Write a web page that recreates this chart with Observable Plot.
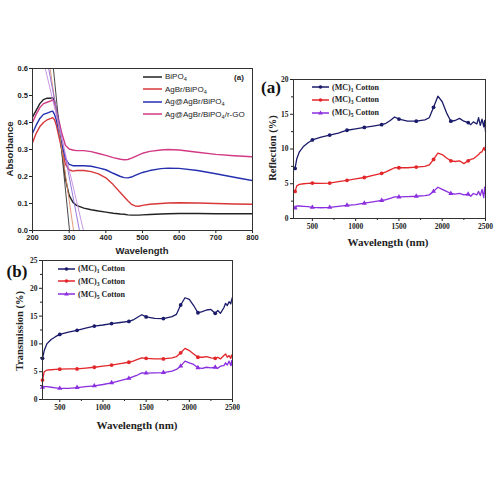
<!DOCTYPE html>
<html><head><meta charset="utf-8">
<script src="https://cdn.jsdelivr.net/npm/d3@7"></script>
<script src="https://cdn.jsdelivr.net/npm/@observablehq/plot@0.6"></script>
<style>
body{margin:0;background:#fff;}
#root{position:relative;width:500px;height:500px;overflow:hidden;background:#fff;}
.p{position:absolute;overflow:visible;}
.t{position:absolute;white-space:nowrap;transform:translate(-50%,-50%);}
.leg{position:absolute;display:flex;align-items:center;white-space:nowrap;}
sub{font-size:70%;vertical-align:-2px;line-height:0;}
</style></head>
<body><div id="root"></div>
<script>
// ---------- Panel 1: absorbance ----------
const absWl = [200,210,220,230,240,250,255,260,265,270,280,290,300,310,320,340,360,380,400,420,440,450,460,470,480,490,500,520,550,570,600,650,700,750,800];
const absBiPO4 = [0.42,0.445,0.47,0.485,0.49,0.49,0.492,0.48,0.45,0.40,0.30,0.19,0.13,0.105,0.093,0.083,0.077,0.072,0.068,0.064,0.061,0.06,0.058,0.057,0.057,0.057,0.058,0.059,0.061,0.062,0.063,0.063,0.062,0.062,0.062];
const absAgBr = [0.325,0.36,0.385,0.40,0.41,0.415,0.418,0.41,0.39,0.36,0.30,0.245,0.225,0.22,0.222,0.222,0.218,0.21,0.195,0.17,0.14,0.125,0.11,0.097,0.091,0.09,0.093,0.097,0.10,0.102,0.103,0.102,0.10,0.098,0.097];
const absAgAgBr = [0.36,0.39,0.415,0.43,0.435,0.44,0.442,0.43,0.41,0.38,0.32,0.265,0.245,0.24,0.24,0.24,0.238,0.232,0.225,0.212,0.20,0.196,0.195,0.198,0.204,0.21,0.215,0.222,0.229,0.231,0.23,0.222,0.21,0.197,0.185];
const absRGO = [0.40,0.43,0.455,0.47,0.475,0.48,0.485,0.47,0.45,0.42,0.36,0.315,0.302,0.298,0.296,0.296,0.292,0.285,0.278,0.27,0.264,0.262,0.263,0.268,0.274,0.28,0.286,0.293,0.298,0.30,0.298,0.29,0.282,0.277,0.273];
const absNames = ["BiPO<sub>4</sub>","AgBr/BiPO<sub>4</sub>","Ag@AgBr/BiPO<sub>4</sub>","Ag@AgBr/BiPO<sub>4</sub>/r-GO"];
const absColors = ["#222222","#d8383a","#2530b0","#d23a86"];
// tangent lines: wavelength at absorbance 0.6 and at 0
const tanTop = [257,248,244,235];
const tanBottom = [301,312,328,339];
const tanY = [0.6,0];
const tanColors = ["#333333","#e0906a","#8a6ad8","#c48ae0"];
const absXTicks = [200,300,400,500,600,700,800];
const absYTicks = [0,0.1,0.2,0.3,0.4,0.5,0.6];

// ---------- Panels 2/3: reflection & transmission ----------
const nirWl = [300,320,350,400,450,500,600,700,800,900,1000,1100,1200,1300,1350,1400,1450,1500,1600,1700,1800,1850,1900,1950,2000,2050,2100,2150,2200,2250,2300,2330,2360,2400,2420,2440,2460,2480,2490,2500];
const refMC1 = [7.2,8.6,9.6,10.4,10.9,11.3,11.7,12.0,12.3,12.7,12.9,13.1,13.3,13.5,13.7,14.1,14.6,14.3,14.0,14.0,14.2,14.5,16.0,17.6,16.8,15.2,14.0,14.1,14.4,14.0,13.8,13.5,13.9,13.6,14.5,13.4,14.3,13.2,14.1,12.5];
const refMC3 = [3.9,4.7,4.9,5.0,5.05,5.1,5.05,5.1,5.3,5.5,5.7,5.9,6.2,6.5,6.7,7.0,7.3,7.3,7.3,7.4,7.5,7.7,8.5,9.4,9.2,8.7,8.3,8.2,8.3,7.9,8.3,8.5,8.6,9.0,9.2,9.5,9.6,10.2,9.8,10.4];
const refMC5 = [1.5,1.8,1.8,1.75,1.7,1.6,1.55,1.6,1.75,1.9,2.0,2.2,2.4,2.6,2.7,2.9,3.1,3.1,3.15,3.2,3.3,3.4,3.9,4.5,4.2,3.9,3.6,3.5,3.6,3.4,3.5,3.2,3.6,3.4,3.9,3.3,4.2,3.0,4.5,3.5];
const traMC1 = [7.4,8.8,10.0,10.8,11.3,11.7,12.1,12.45,12.85,13.2,13.4,13.65,13.85,14.05,14.3,14.8,15.25,14.85,14.6,14.55,14.9,15.3,17.0,18.3,18.0,16.9,15.6,15.8,16.1,16.2,15.5,16.0,15.5,16.5,17.3,16.9,17.6,17.2,17.9,18.4];
const traMC3 = [3.5,5.0,5.3,5.35,5.4,5.45,5.5,5.5,5.65,5.8,6.0,6.2,6.45,6.7,6.9,7.2,7.5,7.4,7.3,7.3,7.5,7.7,8.4,9.2,8.8,8.2,7.6,7.6,7.7,7.5,7.4,7.6,7.3,7.9,8.2,7.6,7.9,7.4,8.0,7.6];
const traMC5 = [2.2,2.3,2.3,2.2,2.1,2.0,2.0,2.15,2.3,2.45,2.7,3.0,3.4,3.8,4.1,4.4,4.8,4.75,4.8,4.85,5.1,5.4,6.0,6.9,6.6,6.3,5.7,5.6,5.8,5.7,5.8,5.6,6.0,6.1,6.6,6.2,6.9,6.1,7.0,6.0];
const markerWl = [300,500,700,900,1100,1300,1500,1700,1900,2100,2300];
const nirNames = ["(MC)<sub>1</sub> Cotton","(MC)<sub>3</sub> Cotton","(MC)<sub>5</sub> Cotton"];
const nirColors = ["#1b1b6b","#e3262a","#8a2ee0"];
const nirSymbols = ["circle","circle","triangle"];
const nirXTicks = [500,1000,1500,2000,2500];
const nirXMinor = [750,1250,1750,2250];
const refYTicks = [0,5,10,15,20];
const refYMinor = [2.5,7.5,12.5,17.5];
const traYTicks = [0,5,10,15,20,25];
const traYMinor = [2.5,7.5,12.5,17.5,22.5];

const root = document.getElementById("root");
function place(el, left, top){ el.classList.add("p"); el.style.left=left+"px"; el.style.top=top+"px"; root.appendChild(el); }
function text(html, x, y, css, rot){ const d=document.createElement("div"); d.className="t"; d.innerHTML=html; d.style.left=x+"px"; d.style.top=y+"px"; d.style.cssText+=css; if(rot) d.style.transform="translate(-50%,-50%) rotate(-90deg)"; root.appendChild(d); }
function legend(items, x, y, dy, css, sw){
  items.forEach((it,i)=>{
    const d=document.createElement("div"); d.className="leg"; d.style.left=x+"px"; d.style.top=(y+i*dy)+"px"; d.style.cssText+=css;
    let m="";
    if(it.sym==="circle") m=`<circle cx="${sw/2}" cy="4" r="1.8" fill="${it.c}"/>`;
    if(it.sym==="triangle") m=`<path d="M${sw/2},1.6 L${sw/2+2.4},5.6 L${sw/2-2.4},5.6Z" fill="${it.c}"/>`;
    d.innerHTML=`<svg width="${sw}" height="8" style="margin-right:3px"><line x1="0" y1="4" x2="${sw}" y2="4" stroke="${it.c}" stroke-width="1.5"/>${m}</svg><span>${it.n}</span>`;
    root.appendChild(d);
  });
}
const plain = d => String(d);

// ---- Panel 1 ----
const absData = [absBiPO4,absAgBr,absAgAgBr,absRGO].flatMap((arr,k)=>arr.map((v,i)=>({x:absWl[i],y:v,s:k})));
const tanData = tanTop.flatMap((t,k)=>[{x:t,y:tanY[0],s:k},{x:tanBottom[k],y:tanY[1],s:k}]);
const p1 = Plot.plot({
  width:262, height:210, marginLeft:32, marginRight:10, marginTop:13, marginBottom:35,
  style:{fontFamily:"Liberation Sans, Arial, sans-serif", fontSize:"7.5px", fontWeight:"bold", color:"#222", background:"transparent"},
  x:{domain:[200,800]}, y:{domain:[0,0.6]},
  marks:[
    Plot.axisX({ticks:absXTicks, tickSize:3, tickPadding:1.5, label:null, tickFormat:plain}),
    Plot.axisY({ticks:absYTicks, tickSize:3, tickPadding:1.5, label:null, tickFormat:d3.format(".1f")}),
    Plot.line(absData,{x:"x",y:"y",z:"s",stroke:d=>absColors[d.s],strokeWidth:1.4,clip:true}),
    Plot.line(tanData,{x:"x",y:"y",z:"s",stroke:d=>tanColors[d.s],strokeWidth:0.9,strokeDasharray:d=>d.s===0?"2,1.5":null,clip:true}),
    Plot.frame({stroke:"#333",strokeWidth:1})
  ]
});
place(p1,0,55);
text("Absorbance",9,149,"font:bold 9.5px 'Liberation Sans',Arial,sans-serif;color:#222;",true);
text("Wavelength",142,250,"font:bold 9.5px 'Liberation Sans',Arial,sans-serif;color:#222;");
text("(a)",239,77,"font:bold 8px 'Liberation Sans',Arial,sans-serif;color:#222;");
legend(absNames.map((n,i)=>({n,c:absColors[i]})),143,72,12.5,"font:8px 'Liberation Sans',Arial,sans-serif;color:#222;",19);

// ---- Panels 2 and 3 ----
function nirPlot(series, yDomain, yTicks, yMinor, xDomain, w, h, ml, mr, mt, mb){
  const data = series.flatMap((arr,k)=>arr.map((v,i)=>({x:nirWl[i],y:v,s:k})));
  const marks = data.filter(d=>markerWl.includes(d.x));
  return Plot.plot({
    width:w, height:h, marginLeft:ml, marginRight:mr, marginTop:mt, marginBottom:mb,
    style:{fontFamily:"Liberation Serif, 'Times New Roman', serif", fontSize:"7.5px", fontWeight:"bold", color:"#222", background:"transparent", overflow:"visible"},
    x:{domain:xDomain}, y:{domain:yDomain},
    symbol:{domain:[0,1,2], range:nirSymbols},
    marks:[
      Plot.axisX({ticks:nirXTicks, tickSize:3, tickPadding:2, label:null, tickFormat:plain}),
      Plot.axisX({ticks:nirXMinor, tickSize:2, text:null, label:null}),
      Plot.axisY({ticks:yTicks, tickSize:3, tickPadding:2, label:null, tickFormat:plain}),
      Plot.axisY({ticks:yMinor, tickSize:2, text:null, label:null}),
      Plot.line(data,{x:"x",y:"y",z:"s",stroke:d=>nirColors[d.s],strokeWidth:1.3}),
      Plot.dot(marks,{x:"x",y:"y",symbol:"s",fill:d=>nirColors[d.s],r:1.9,stroke:"none"}),
      Plot.frame({stroke:"#333",strokeWidth:1})
    ]
  });
}
const p2 = nirPlot([refMC1,refMC3,refMC5],[0,20],refYTicks,refYMinor,[282,2500],240,180,38,10,9,32);
place(p2,255,70);
text("Reflection (%)",272,148,"font:bold 10.5px 'Liberation Serif','Times New Roman',serif;color:#222;",true);
text("Wavelength (nm)",388,242,"font:bold 11px 'Liberation Serif','Times New Roman',serif;color:#222;");
text("(a)",271,88,"font:bold 17px 'Liberation Serif','Times New Roman',serif;color:#111;");
legend(nirNames.map((n,i)=>({n,c:nirColors[i],sym:nirSymbols[i]})),312,82.5,12.8,"font:bold 8px 'Liberation Serif','Times New Roman',serif;color:#222;",17);

const p3 = nirPlot([traMC1,traMC3,traMC5],[0,25],traYTicks,traYMinor,[300,2500],240,190,42,8,10,41);
place(p3,0,250);
text("Transmission (%)",19,331,"font:bold 10.5px 'Liberation Serif','Times New Roman',serif;color:#222;",true);
text("Wavelength (nm)",137,425,"font:bold 11px 'Liberation Serif','Times New Roman',serif;color:#222;");
text("(b)",17,272,"font:bold 17px 'Liberation Serif','Times New Roman',serif;color:#111;");
legend(nirNames.map((n,i)=>({n,c:nirColors[i],sym:nirSymbols[i]})),58,264,12.9,"font:bold 8px 'Liberation Serif','Times New Roman',serif;color:#222;",17);
</script>
</body></html>
